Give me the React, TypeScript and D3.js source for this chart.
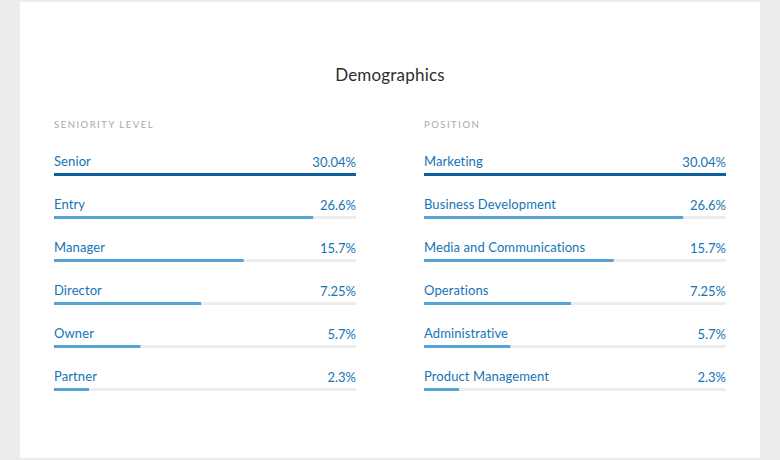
import { useEffect, useRef } from 'react';
import * as d3 from 'd3';

const seniorityLabels = ['Senior', 'Entry', 'Manager', 'Director', 'Owner', 'Partner'];
const positionLabels = [
	'Marketing',
	'Business Development',
	'Media and Communications',
	'Operations',
	'Administrative',
	'Product Management',
];
const shareValues = ['30.04%', '26.6%', '15.7%', '7.25%', '5.7%', '2.3%'];
// how much of the track each bar fills (percent)
const barFill = [100, 85.8, 62.8, 48.7, 28.6, 11.6];

const W = 780;
const H = 460;

export default function App() {
	const svgRef = useRef<SVGSVGElement>(null);

	useEffect(() => {
		if (!svgRef.current) return;
		const svg = d3.select(svgRef.current);
		svg.selectAll('*').remove();

		svg.append('rect').attr('width', W).attr('height', H).attr('fill', '#ececec');
		svg.append('rect').attr('x', 20).attr('y', 2).attr('width', 740).attr('height', 456).attr('fill', '#fff');

		svg
			.append('text')
			.attr('x', 390)
			.attr('y', 81)
			.attr('text-anchor', 'middle')
			.style('font-family', 'Lato, sans-serif')
			.style('font-size', '17px')
			.style('letter-spacing', '0.2px')
			.style('fill', '#2e2e2e')
			.text('Demographics');

		const trackW = 302;
		const xScale = d3.scaleLinear().domain([0, 100]).range([0, trackW]);
		const yScale = d3
			.scalePoint<number>()
			.domain(d3.range(6))
			.range([173, 388]);

		const columns = [
			{ x: 54, title: 'SENIORITY LEVEL', labels: seniorityLabels },
			{ x: 424, title: 'POSITION', labels: positionLabels },
		];

		columns.forEach((col) => {
			const g = svg.append('g').attr('transform', `translate(${col.x},0)`);

			g.append('text')
				.attr('x', 0)
				.attr('y', 128)
				.style('font-family', 'Lato, sans-serif')
				.style('font-size', '9.5px')
				.style('letter-spacing', '1.5px')
				.style('fill', '#a8a8a8')
				.text(col.title);

			const rows = g
				.selectAll('.row')
				.data(col.labels.map((label, i) => ({ label, value: shareValues[i], fill: barFill[i], i })))
				.enter()
				.append('g')
				.attr('class', 'row')
				.attr('transform', (d) => `translate(0,${yScale(d.i)})`);

			rows.append('rect')
				.attr('x', 0)
				.attr('y', 0)
				.attr('width', trackW)
				.attr('height', 3)
				.attr('fill', '#ededed');

			rows.append('rect')
				.attr('x', 0)
				.attr('y', 0)
				.attr('width', (d) => xScale(d.fill))
				.attr('height', 3)
				.attr('fill', (d) => (d.i === 0 ? '#0d5f9d' : '#55a4d3'));

			rows.append('text')
				.attr('x', 0)
				.attr('y', -7)
				.style('font-family', 'Lato, sans-serif')
				.style('font-size', '13px')
				.style('letter-spacing', '0.1px')
				.style('fill', '#1474b6')
				.text((d) => d.label);

			rows.append('text')
				.attr('x', trackW)
				.attr('y', -6)
				.attr('text-anchor', 'end')
				.style('font-family', 'Lato, sans-serif')
				.style('font-size', '13px')
				.style('fill', '#1474b6')
				.text((d) => d.value);
		});
	}, []);

	return (
		<div style={{ position: 'fixed', left: 0, top: 0 }}>
			<svg ref={svgRef} width={W} height={H} style={{ display: 'block' }}></svg>
		</div>
	);
}
